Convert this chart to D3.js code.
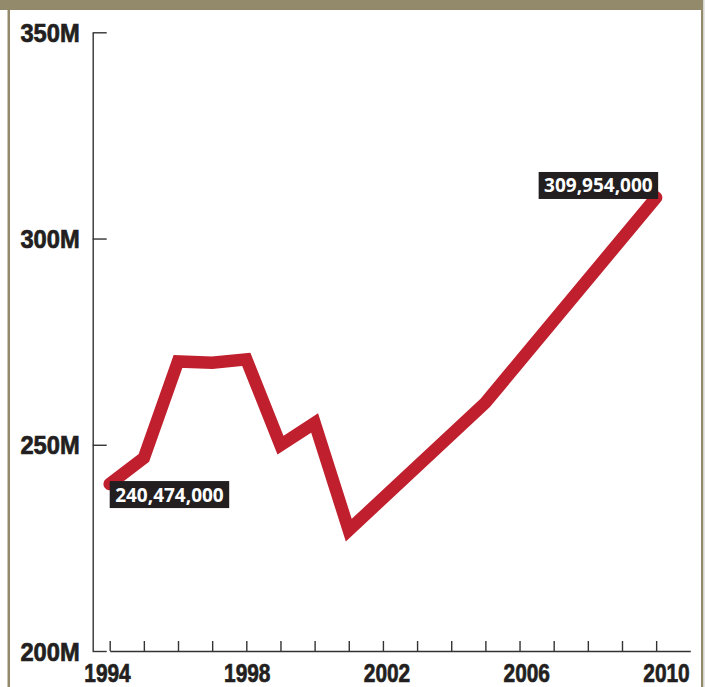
<!DOCTYPE html>
<html>
<head>
<meta charset="utf-8">
<script src="https://cdn.jsdelivr.net/npm/d3@7"></script>
<style>
  html, body { margin: 0; padding: 0; background: #ffffff; }
  svg { display: block; }
  .axis-label { font-family: "Liberation Sans", Arial, sans-serif; font-weight: bold; fill: #231f20; stroke: #231f20; stroke-width: 0.7px; }
  .value-label { font-family: "Open Sans", sans-serif; font-weight: bold; fill: #ffffff; }
</style>
</head>
<body>
<script>
// ---- data ----
const years = [1994, 1995, 1996, 1997, 1998, 1999, 2000, 2001, 2005, 2010];
const values = [240.474, 246.8, 270.2, 269.9, 270.7, 249.9, 255.3, 229.3, 260.2, 309.954];
const yTicks = [200, 250, 300, 350];
const xTickYears = d3.range(1994, 2011);
const xLabelYears = [1994, 1998, 2002, 2006, 2010];
const callouts = [
  { year: 1994, value: 240.474, text: "240,474,000", side: "below-right" },
  { year: 2010, value: 309.954, text: "309,954,000", side: "above-left" }
];

const W = 705, H = 687;
const svg = d3.select("body").append("svg").attr("width", W).attr("height", H);

// frame
const olive = "#938a6c";
svg.append("rect").attr("x", 0).attr("y", 0).attr("width", W).attr("height", H).attr("fill", "#ffffff");
svg.append("rect").attr("x", 703).attr("y", 0).attr("width", 2).attr("height", H).attr("fill", "#e6e6e6");
svg.append("rect").attr("x", 0).attr("y", 0).attr("width", 703).attr("height", 10).attr("fill", olive);
svg.append("rect").attr("x", 7.5).attr("y", 0).attr("width", 2.5).attr("height", H).attr("fill", olive);
svg.append("rect").attr("x", 701).attr("y", 0).attr("width", 2.2).attr("height", H).attr("fill", olive);

// scales
const x = d3.scaleLinear().domain([1994, 2011]).range([109.7, 690.3]);
const y = d3.scaleLinear().domain([200, 350]).range([651, 32.3]);
const xLab = d3.scaleLinear().domain([1994, 2010]).range([107.5, 666.5]);

// y axis
const yAxis = svg.append("g").attr("transform", "translate(92.7,0)")
  .call(d3.axisLeft(y).tickValues(yTicks).tickSizeInner(-14).tickSizeOuter(0).tickPadding(12.7)
    .tickFormat(d => d + "M"));
yAxis.select(".domain").attr("stroke", "#333").attr("stroke-width", 1.4);
yAxis.selectAll(".tick line").attr("stroke", "#333").attr("stroke-width", 1.4);
yAxis.selectAll(".tick text")
  .attr("class", "axis-label").attr("font-size", 25.8)
  .attr("x", 0).attr("dy", "0.355em")
  .attr("transform", "translate(-13,0) scale(0.92,1)");

// x axis
const xAxis = svg.append("g").attr("transform", "translate(0,651)")
  .call(d3.axisBottom(x).tickValues(xTickYears).tickSizeInner(-10).tickSizeOuter(0).tickFormat(""));
xAxis.select(".domain").attr("stroke", "#333").attr("stroke-width", 1.4);
xAxis.selectAll(".tick line").attr("stroke", "#333").attr("stroke-width", 1.4);
xAxis.selectAll(".tick text").remove();

svg.append("g").selectAll("text").data(xLabelYears).join("text")
  .attr("class", "axis-label")
  .attr("transform", d => `translate(${xLab(d)},681.7) scale(0.82,1)`)
  .attr("text-anchor", "middle").attr("font-size", 25.5)
  .text(d => d);

// line
const data = years.map((yr, i) => ({ year: yr, value: values[i] }));
const line = d3.line().x(d => x(d.year)).y(d => y(d.value));
svg.append("path").datum(data)
  .attr("d", line)
  .attr("fill", "none")
  .attr("stroke", "#c01f2e")
  .attr("stroke-width", 12.5)
  .attr("stroke-linejoin", "miter")
  .attr("stroke-linecap", "round");

// callouts
const bw = 119.5, bh = 27;
callouts.forEach(c => {
  const px = x(c.year), py = y(c.value);
  const bx = c.side === "below-right" ? px : px + 2 - bw;
  const by = c.side === "below-right" ? py - 3 : py + 1.5 - bh;
  svg.append("rect").attr("x", bx).attr("y", by).attr("width", bw).attr("height", bh).attr("fill", "#231f20");
  svg.append("text").attr("class", "value-label")
    .attr("x", bx + bw / 2).attr("y", by + bh / 2 + 7)
    .attr("text-anchor", "middle").attr("font-size", 19)
    .text(c.text);
});
</script>
</body>
</html>
